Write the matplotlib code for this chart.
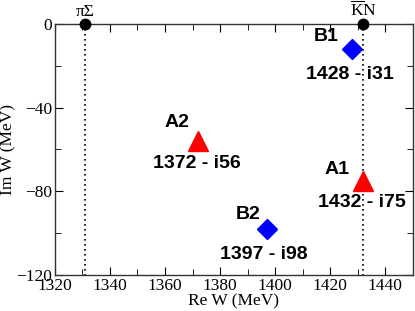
import matplotlib
matplotlib.use("Agg")
import matplotlib.pyplot as plt
from matplotlib.ticker import MultipleLocator

plt.rcParams["mathtext.fontset"] = "custom"
plt.rcParams["mathtext.rm"] = "Liberation Serif"
plt.rcParams["mathtext.it"] = "Liberation Serif"

# Data
thresholds_x = [1331, 1432]
threshold_labels = ["πΣ", r"$\overline{\mathrm{K}}\mathrm{N}$"]

tri_x = [1372, 1432]
tri_y = [-56, -75]
tri_names = ["A2", "A1"]
tri_values = ["1372 - i56", "1432 - i75"]

dia_x = [1428, 1397]
dia_y = [-12, -98]
dia_names = ["B1", "B2"]
dia_values = ["1428 - i31", "1397 - i98"]

# label positions (data coords)
tri_name_pos = [(1364.4, -46.9), (1422.4, -69.8)]
tri_val_pos = [(1371.6, -66.5), (1431.5, -85.3)]
dia_name_pos = [(1418.4, -6.2), (1390.1, -91.3)]
dia_val_pos = [(1427.0, -24.4), (1395.8, -110.4)]

fig = plt.figure(figsize=(4.15, 3.11), dpi=100)
ax = fig.add_axes([0.132, 0.116, 0.863, 0.807])

serif = "Liberation Serif"
sans = "Liberation Sans"

for x in thresholds_x:
    ax.plot([x, x], [0, -120], ls=(0, (1, 2)), color="black", lw=1.2)
ax.plot(thresholds_x, [0, 0], "o", color="black", ms=7.5, clip_on=False, zorder=5)
for x, lab in zip(thresholds_x, threshold_labels):
    ax.annotate(lab, (x, 0), xytext=(0, 3), textcoords="offset points",
                ha="center", va="bottom", fontsize=12.5, family=serif,
                annotation_clip=False)

ax.plot(tri_x, tri_y, "^", color="red", ms=15, ls="none", zorder=4)
ax.plot(dia_x, dia_y, "D", color="blue", ms=10.5, ls="none", zorder=4)

for (px, py), t in zip(tri_name_pos + dia_name_pos, tri_names + dia_names):
    ax.text(px, py, t, ha="center", va="center", fontsize=14,
            fontweight="bold", family=sans)
for (px, py), t in zip(tri_val_pos + dia_val_pos, tri_values + dia_values):
    ax.text(px, py, t, ha="center", va="center", fontsize=14,
            fontweight="bold", family=sans)

ax.set_xlim(1320, 1450)
ax.set_ylim(-120, 0)
ax.xaxis.set_major_locator(MultipleLocator(20))
ax.xaxis.set_minor_locator(MultipleLocator(10))
ax.yaxis.set_major_locator(MultipleLocator(40))
ax.yaxis.set_minor_locator(MultipleLocator(20))
ax.tick_params(which="both", direction="in", top=True, right=True,
               labelsize=12.5, pad=2)
ax.tick_params(which="major", length=6)
ax.tick_params(which="minor", length=4)
for lab in ax.get_xticklabels() + ax.get_yticklabels():
    lab.set_family(serif)

ax.set_xlabel("Re W (MeV)", family=serif, fontsize=12.5, labelpad=0)
ax.set_ylabel("Im W (MeV)", family=serif, fontsize=12.5)
ax.yaxis.set_label_coords(-0.108, 0.5)
for s in ax.spines.values():
    s.set_linewidth(1.0)
    s.set_color("#333333")

fig.savefig("out.png", dpi=100)
